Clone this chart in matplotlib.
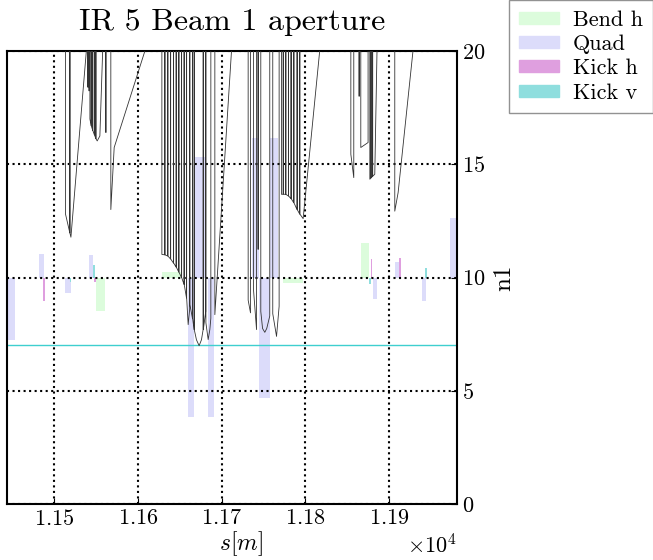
import matplotlib
matplotlib.use("Agg")
import matplotlib.pyplot as plt
from matplotlib.patches import Patch

plt.rcParams['font.family'] = 'serif'
plt.rcParams['font.serif'] = ['cmr10']
plt.rcParams['mathtext.fontset'] = 'cm'
plt.rcParams['axes.unicode_minus'] = False
plt.rcParams['axes.formatter.use_mathtext'] = True

# ---- aperture n1 along s (100 = off-scale, clipped at top) ----
aperture_s = [
    11444.0, 11513.5, 11513.6, 11518.7, 11518.8, 11518.9, 11520.0, 11539.1, 11539.3,
    11540.3, 11540.3, 11540.4, 11541.7, 11541.7, 11541.8,
    11542.7, 11542.7, 11544.2, 11544.25, 11544.3, 11546.0, 11546.05, 11546.1,
    11548.0, 11548.05, 11548.1, 11549.8, 11549.85, 11549.9, 11551.4, 11554.6, 11558.2,
    11558.4, 11561.8, 11561.8, 11561.9, 11567.6, 11567.7, 11571.7, 11612.7, 11613.0,
    11628.6, 11628.7, 11632.2, 11632.3, 11632.4, 11635.7, 11635.8, 11635.9, 11639.0,
    11639.1, 11639.2, 11642.5, 11642.6, 11642.7, 11645.7, 11645.8, 11645.9, 11648.9,
    11649.0, 11649.1, 11652.1, 11652.2, 11652.3, 11655.2, 11655.3, 11655.4, 11658.1,
    11658.2, 11658.3, 11660.1, 11661.9, 11662.0, 11662.2, 11665.2, 11665.3, 11665.4,
    11667.2, 11667.3, 11667.4, 11670.0, 11673.2, 11676.0, 11678.0, 11678.1, 11678.2,
    11681.1, 11681.2, 11681.3, 11684.0, 11686.0, 11687.2, 11687.3, 11691.9, 11692.0,
    11712.9, 11713.2,
    11731.7, 11731.8, 11734.6, 11734.7, 11738.0, 11738.1, 11741.8, 11742.0, 11743.6,
    11743.7, 11743.8, 11746.8, 11746.9, 11749.0, 11751.7, 11754.0, 11757.6, 11757.7,
    11761.1, 11761.2, 11765.7, 11768.8, 11768.9,
    11771.6, 11771.7, 11773.6, 11773.7, 11773.8, 11776.7, 11776.8, 11776.9, 11779.9,
    11780.0, 11780.1, 11783.0, 11783.1, 11783.2, 11786.3, 11786.4, 11786.5, 11790.2,
    11790.3, 11790.4, 11793.4, 11793.5, 11793.6, 11797.5, 11818.6, 11819.0,
    11854.4, 11854.5, 11858.0, 11858.1, 11864.3, 11864.4, 11864.5, 11866.3, 11866.4,
    11875.1, 11875.2, 11877.1, 11877.2, 11878.6, 11878.65, 11878.7, 11880.5, 11880.55,
    11880.6, 11883.1, 11885.9, 11886.0,
    11906.9, 11907.0, 11911.0, 11929.6, 11930.0, 11981.0,
]
aperture_n1 = [
    100, 100, 12.79, 11.97, 100, 11.95, 11.78, 20.3, 100,
    100, 18.4, 100, 100, 18.24, 100,
    100, 17.0, 16.7, 100, 16.7, 16.5, 100, 16.5,
    16.3, 100, 16.3, 16.13, 100, 16.13, 16.03, 16.25, 20.3,
    100, 100, 16.4, 100, 100, 13.0, 15.74, 20.5, 100,
    100, 11.02, 11.0, 100, 11.0, 10.95, 100, 10.95, 10.82,
    100, 10.82, 10.64, 100, 10.64, 10.46, 100, 10.46, 10.24,
    100, 10.24, 10.0, 100, 10.0, 9.69, 100, 9.69, 9.10,
    100, 9.10, 7.92, 8.6, 100, 8.8, 8.2, 100, 8.2,
    7.7, 100, 7.7, 7.25, 6.99, 7.25, 7.7, 100, 7.7,
    8.5, 100, 8.0, 7.26, 7.7, 8.2, 100, 100, 8.36,
    20.6, 100,
    100, 9.0, 8.44, 100, 100, 9.5, 7.70, 100, 100,
    11.24, 100, 100, 8.5, 7.75, 7.58, 7.75, 8.3, 100,
    100, 8.4, 7.40, 8.73, 100,
    100, 13.67, 13.68, 100, 13.68, 13.67, 100, 13.67, 13.6,
    100, 13.6, 13.48, 100, 13.48, 13.3, 100, 13.3, 13.0,
    100, 13.0, 12.8, 100, 12.8, 12.6, 20.5, 100,
    100, 15.44, 14.41, 100, 100, 18.0, 100, 100, 15.74,
    15.96, 100, 100, 14.34, 14.4, 100, 14.4, 14.47, 100,
    14.47, 14.56, 20.3, 100,
    100, 12.93, 13.75, 20.3, 100, 100,
]

# ---- element bars (drawn from n1 = 10) ----
bar_base = 10
bend_s = [11555.4, 11640.7, 11785.2, 11871.2]
bend_len = [10.4, 23.9, 24.6, 9.6]
bend_val = [-1.5, 0.25, -0.25, 1.52]

quad_s = [11448.0, 11484.5, 11516.5, 11543.9, 11663.3, 11674.9, 11687.2,
          11740.4, 11748.2, 11754.6, 11762.7, 11882.8, 11909.6, 11941.9, 11978.0]
quad_len = [10.0, 5.6, 6.9, 4.8, 7.3, 12.8, 7.2, 9.1, 6.5, 6.3, 9.9, 4.8, 5.2, 5.1, 9.0]
quad_val = [-2.75, 1.05, -0.7, 1.0, -6.14, 5.34, -6.14, 6.18, -5.32, -5.32, 6.18,
            -0.94, 0.68, -1.02, 2.64]

kickh_s = [11487.5, 11548.6, 11878.8, 11913.0]
kickh_len = [2.0, 2.0, 1.6, 2.4]
kickh_val = [-1.05, -0.2, 0.8, 0.84]

kickv_s = [11519.5, 11547.6, 11877.2, 11944.5]
kickv_len = [1.5, 2.0, 1.6, 1.6]
kickv_val = [-0.2, 0.55, -0.27, 0.43]

n1_min = 7.0

legend_labels = ['Bend h', 'Quad', 'Kick h', 'Kick v']
col_bend = '#dcfcdc'
col_quad = '#dcdcfa'
col_kickh = '#df9fdf'
col_kickv = '#8fdede'

fig = plt.figure(figsize=(6.53, 5.6), dpi=100)
ax = fig.add_axes([0.0112, 0.1, 0.6882, 0.8089])

ax.bar(bend_s, bend_val, width=bend_len, bottom=bar_base, color=col_bend, linewidth=0)
ax.bar(quad_s, quad_val, width=quad_len, bottom=bar_base, color=col_quad, linewidth=0)
ax.bar(kickh_s, kickh_val, width=kickh_len, bottom=bar_base, color=col_kickh, linewidth=0)
ax.bar(kickv_s, kickv_val, width=kickv_len, bottom=bar_base, color=col_kickv, linewidth=0)

ax.plot(aperture_s, aperture_n1, color='#333333', linewidth=0.6, zorder=3)
ax.axhline(n1_min, color='#3fcfcf', linewidth=1.0, zorder=2)

ax.set_xlim(11444, 11981)
ax.set_ylim(0, 20)
ax.set_xticks([11500, 11600, 11700, 11800, 11900])
ax.set_yticks([0, 5, 10, 15, 20])
ax.ticklabel_format(axis='x', style='sci', scilimits=(0, 0), useOffset=False, useMathText=True)
ax.yaxis.tick_right()
ax.yaxis.set_label_position('right')
ax.tick_params(direction='in', labelsize=16, length=4)
ax.xaxis.get_offset_text().set_fontsize(16)
ax.grid(True, linestyle=':', color='k', linewidth=1.5)
for sp in ax.spines.values():
    sp.set_linewidth(1.5)

ax.set_title('IR 5 Beam 1 aperture', fontsize=23, pad=15)
ax.set_xlabel(r'$s[m]$', fontsize=17, labelpad=0, x=0.52)
ax.set_ylabel('n1', fontsize=18, labelpad=6)

handles = [Patch(color=c) for c in [col_bend, col_quad, col_kickh, col_kickv]]
fig.legend(handles, legend_labels, loc='upper right', bbox_to_anchor=(1.0, 1.0),
           fontsize=16, frameon=True, fancybox=False, edgecolor='#777777',
           handlelength=1.8, handleheight=0.45, labelspacing=0.22, borderpad=0.45,
           handletextpad=0.65, borderaxespad=0.0)

fig.savefig('out.png', dpi=100)
